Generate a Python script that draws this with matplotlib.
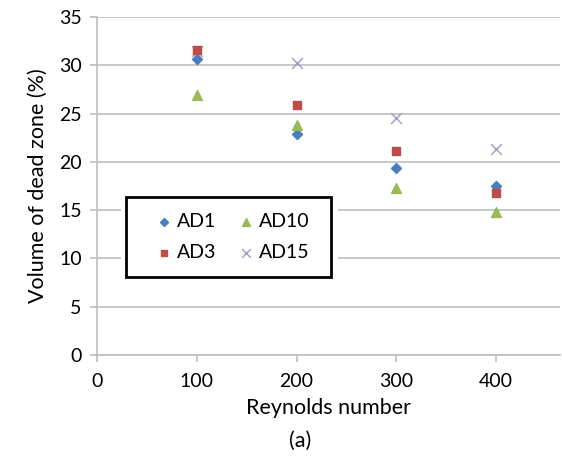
import matplotlib
matplotlib.use('Agg')
import matplotlib.pyplot as plt
from matplotlib.patches import Rectangle

reynolds = [100, 200, 300, 400]
ad1 = [30.7, 22.9, 19.4, 17.5]
ad3 = [31.6, 25.9, 21.1, 16.8]
ad10 = [26.9, 23.8, 17.3, 14.8]
ad15 = [31.5, 30.2, 24.5, 21.3]

plt.rcParams['font.family'] = ['Lato', 'DejaVu Sans']

W, H = 562, 461
fig = plt.figure(figsize=(W / 100, H / 100), dpi=100)
ax = fig.add_axes([97 / W, 1 - 355 / H, 463 / W, 338 / H])

ax.scatter(reynolds, ad15, marker='x', s=60, color='#A497C4', linewidths=1.0,
           label='AD15', zorder=3)
ax.scatter(reynolds, ad1, marker='D', s=26, color='#4A7EBB', label='AD1', zorder=4)
ax.scatter(reynolds, ad3, marker='s', s=36, color='#BE4B48', label='AD3', zorder=4)
ax.scatter(reynolds, ad10, marker='^', s=50, color='#98B954', label='AD10', zorder=4)

ax.set_xlim(0, 464)
ax.set_ylim(0, 35)
ax.set_xticks([0, 100, 200, 300, 400])
ax.set_yticks(range(0, 36, 5))
ax.yaxis.grid(True, color='#BEBEBE', linewidth=1.2)
ax.set_axisbelow(True)
for side in ['top', 'right']:
    ax.spines[side].set_visible(False)
for side in ['left', 'bottom']:
    ax.spines[side].set_color('#BEBEBE')
    ax.spines[side].set_linewidth(1.2)
ax.tick_params(axis='both', colors='#BEBEBE', length=5, width=1.2, labelsize=14,
               labelcolor='black')
ax.tick_params(axis='x', pad=8)
ax.tick_params(axis='y', pad=6)
ax.set_xlabel('Reynolds number', fontsize=15.5, labelpad=6)
ax.set_ylabel('Volume of dead zone (%)', fontsize=15.5, labelpad=8)

# white gap in the gridlines around the legend, then the black frame
fig.patches.append(Rectangle((121 / W, 1 - 282 / H), 217 / W, 90 / H,
                             transform=fig.transFigure, facecolor='white',
                             edgecolor='none', zorder=2))
fig.patches.append(Rectangle((126 / W, 1 - 277 / H), 205 / W, 80 / H,
                             transform=fig.transFigure, facecolor='none',
                             edgecolor='black', linewidth=2, zorder=6))

hd, lb = ax.get_legend_handles_labels()
order = [1, 2, 3, 0]
leg = fig.legend([hd[i] for i in order], [lb[i] for i in order],
                 ncol=2, loc='center', bbox_to_anchor=(231 / W, 1 - 237 / H),
                 fontsize=14, frameon=False, handletextpad=0.1,
                 handlelength=1.2, columnspacing=0.9, labelspacing=0.75,
                 markerscale=0.8)
leg.set_zorder(5)

fig.text(300 / W, 1 - 441 / H, '(a)', ha='center', va='center', fontsize=15.5)

plt.savefig('out.png', dpi=100)
